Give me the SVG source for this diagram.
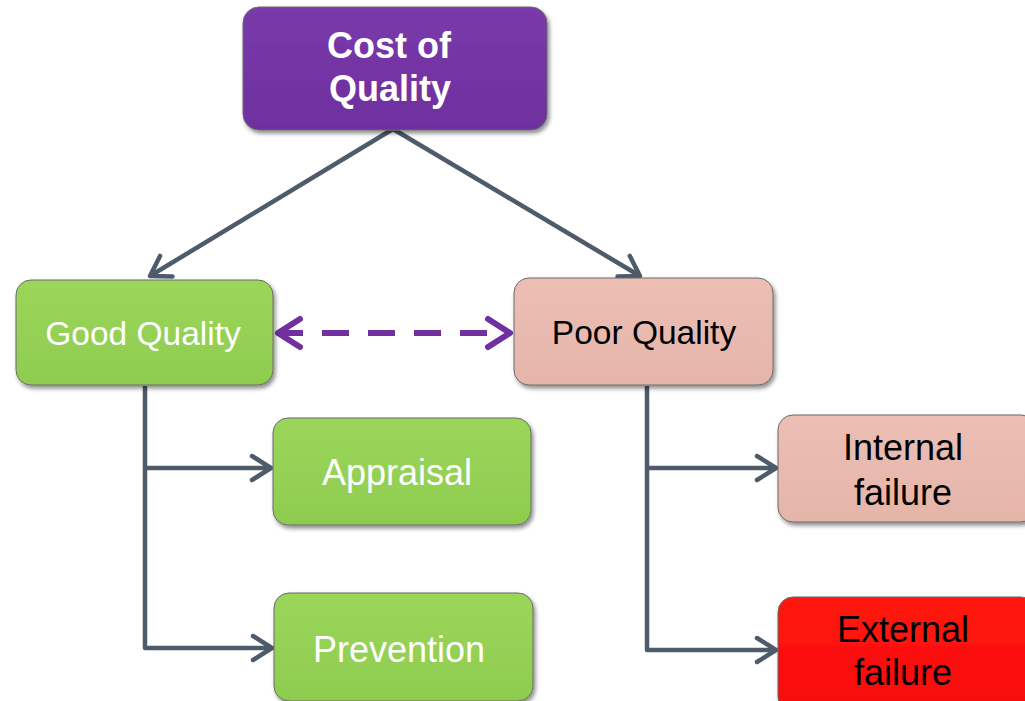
<svg xmlns="http://www.w3.org/2000/svg" width="1025" height="701" viewBox="0 0 1025 701">
  <defs>
    <style>
      .box { stroke: #6b6b6b; stroke-width: 1; filter: url(#shadow); }
      .purple { fill: url(#gPurple); }
      .green { fill: url(#gGreen); }
      .pink { fill: url(#gPink); }
      .red { fill: url(#gRed); }
      .lbl { font-family: "Liberation Sans", Arial, sans-serif; text-anchor: middle; }
      .white { fill: #ffffff; }
      .black { fill: #000000; }
      .conn { fill: none; stroke: #4e5b6b; stroke-width: 4.5; stroke-linejoin: round; }
      .dash { fill: none; stroke: #7030a0; stroke-width: 6; stroke-dasharray: 27 19; }
    </style>
    <filter id="shadow" x="-10%" y="-10%" width="125%" height="130%">
      <feDropShadow dx="2" dy="3" stdDeviation="2" flood-color="#000" flood-opacity="0.45"/>
    </filter>
    <linearGradient id="gPurple" x1="0" y1="0" x2="0" y2="1">
      <stop offset="0" stop-color="#7a3aab"/>
      <stop offset="1" stop-color="#6e2f9e"/>
    </linearGradient>
    <linearGradient id="gGreen" x1="0" y1="0" x2="0" y2="1">
      <stop offset="0" stop-color="#9bd65a"/>
      <stop offset="1" stop-color="#8ecc4f"/>
    </linearGradient>
    <linearGradient id="gPink" x1="0" y1="0" x2="0" y2="1">
      <stop offset="0" stop-color="#ecbeb4"/>
      <stop offset="1" stop-color="#e5b5aa"/>
    </linearGradient>
    <linearGradient id="gRed" x1="0" y1="0" x2="0" y2="1">
      <stop offset="0" stop-color="#ff1a10"/>
      <stop offset="1" stop-color="#f80606"/>
    </linearGradient>
    <marker id="arrowGray" markerUnits="userSpaceOnUse" markerWidth="30" markerHeight="30" viewBox="-24 -15 28 30" refX="0" refY="0" orient="auto" overflow="visible">
      <path d="M-19,-12 L0,0 L-19,12" fill="none" stroke="#4e5b6b" stroke-width="4.5" stroke-linecap="round" stroke-linejoin="round"/>
    </marker>
    <marker id="arrowPurple" markerUnits="userSpaceOnUse" markerWidth="34" markerHeight="34" viewBox="-28 -17 32 34" refX="0" refY="0" orient="auto-start-reverse" overflow="visible">
      <path d="M-22,-14 L0,0 L-22,14" fill="none" stroke="#7030a0" stroke-width="6" stroke-linecap="round" stroke-linejoin="round"/>
    </marker>
  </defs>

  <rect width="1025" height="701" fill="#ffffff"/>

  <!-- connectors -->
  <g id="connectors">
    <line class="conn" x1="393" y1="129" x2="150" y2="276" marker-end="url(#arrowGray)"/>
    <line class="conn" x1="393" y1="129" x2="640" y2="276" marker-end="url(#arrowGray)"/>
    <polyline class="conn" points="145,386 145,648 272,648" marker-end="url(#arrowGray)"/>
    <line class="conn" x1="145" y1="468" x2="271" y2="468" marker-end="url(#arrowGray)"/>
    <polyline class="conn" points="647,386 647,650 776,650" marker-end="url(#arrowGray)"/>
    <line class="conn" x1="647" y1="468" x2="776" y2="468" marker-end="url(#arrowGray)"/>
    <line class="dash" x1="278" y1="333" x2="510" y2="333" stroke-dashoffset="-44" marker-start="url(#arrowPurple)" marker-end="url(#arrowPurple)"/>
  </g>

  <!-- nodes -->
  <g id="cost-of-quality">
    <rect class="box purple" x="243" y="7" width="304" height="123" rx="16"/>
    <text class="lbl white" x="389" y="58" font-size="36" font-weight="bold">Cost of</text>
    <text class="lbl white" x="390" y="101" font-size="36" font-weight="bold">Quality</text>
  </g>

  <g id="good-quality">
    <rect class="box green" x="16" y="280" width="257" height="105" rx="15"/>
    <text class="lbl white" x="143" y="345" font-size="33.5">Good Quality</text>
  </g>

  <g id="poor-quality">
    <rect class="box pink" x="514" y="278" width="259" height="107" rx="15"/>
    <text class="lbl black" x="644" y="344" font-size="33.5">Poor Quality</text>
  </g>

  <g id="appraisal">
    <rect class="box green" x="273" y="418" width="258" height="107" rx="15"/>
    <text class="lbl white" x="397" y="485" font-size="36">Appraisal</text>
  </g>

  <g id="prevention">
    <rect class="box green" x="274" y="593" width="259" height="108" rx="15"/>
    <text class="lbl white" x="399" y="662" font-size="36">Prevention</text>
  </g>

  <g id="internal-failure">
    <rect class="box pink" x="778" y="415" width="258" height="107" rx="15"/>
    <text class="lbl black" x="903" y="460" font-size="36">Internal</text>
    <text class="lbl black" x="903" y="505" font-size="36">failure</text>
  </g>

  <g id="external-failure">
    <rect class="box red" x="778" y="597" width="258" height="115" rx="15"/>
    <text class="lbl black" x="903" y="642" font-size="36">External</text>
    <text class="lbl black" x="903" y="685" font-size="36">failure</text>
  </g>
</svg>
